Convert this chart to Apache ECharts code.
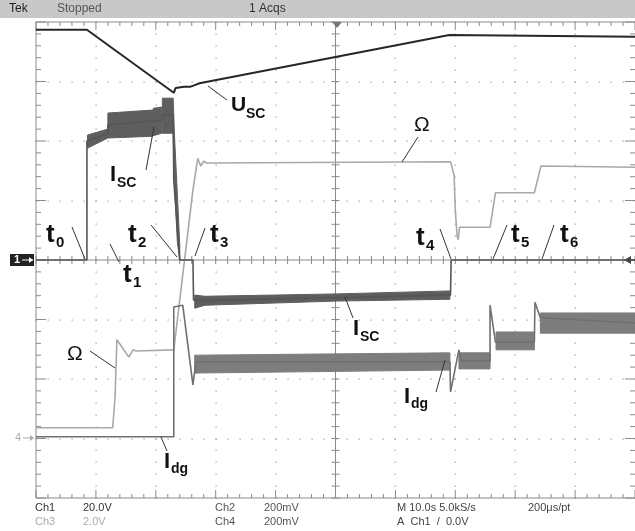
<!DOCTYPE html>
<html>
<head>
<meta charset="utf-8">
<script src="https://cdn.jsdelivr.net/npm/echarts@6.0.0/dist/echarts.min.js"></script>
<style>
  html, body { margin: 0; padding: 0; background: #fff; }
  #scope { width: 635px; height: 531px; }
</style>
</head>
<body>
<div id="scope"></div>
<script>
// Horizontal: time in seconds (10 s per division, 10 divisions).
// Vertical: amplitude in screen divisions measured from the centre line.

// Ch1 – supercapacitor voltage U_sc
const uscTrace = [[0,3.87],[8.5,3.87],[23.0,2.81],[23.3,2.89],[24.7,2.91],[25.7,2.91],[26.5,2.94],[27.3,2.97],[69.0,3.78],[69.3,3.75],[100,3.75]];

// Ch2 – supercapacitor current I_sc (centre path + noise envelopes)
const iscTrace = [[0,0],[8.5,0],[8.5,2.00],[12.0,2.12],[12.0,2.27],[21.0,2.35],[21.2,2.44],[22.9,2.44],[23.0,1.34],[24.0,0],[26.2,0],[26.3,-0.67],[28.2,-0.68],[69.2,-0.59],[69.3,0],[100,0]];
const iscBands = [
  [[8.6,1.88,2.10],[12.0,2.05,2.20]],
  [[12.0,2.05,2.47],[19.5,2.08,2.52],[19.6,2.09,2.55],[21.0,2.13,2.57]],
  [[21.1,2.13,2.72],[22.9,2.13,2.72],[23.1,1.30,2.13],[23.6,0.30,1.10],[24.0,0,0.25]],
  [[26.5,-0.81,-0.59],[28.2,-0.76,-0.61],[50.2,-0.69,-0.57],[69.1,-0.66,-0.52]]
];

// Ch3 – wheel speed Ω
const omegaTrace = [[0,-2.82],[12.8,-2.82],[13.2,-2.30],[13.5,-1.34],[13.8,-1.33],[15.5,-1.63],[16.2,-1.51],[16.7,-1.53],[23.0,-1.51],[26.2,1.18],[27.0,1.71],[27.5,1.58],[28.0,1.66],[28.5,1.63],[69.2,1.65],[69.8,1.43],[70.0,0.84],[70.3,0.40],[70.5,0.34],[70.7,0.55],[75.8,0.55],[76.7,1.13],[83.2,1.13],[84.3,1.58],[100,1.56]];

// Ch4 – generator current I_dg (centre path + noise envelopes)
const idgTrace = [[0,-2.97],[23.0,-2.97],[23.0,-0.79],[23.3,-0.76],[24.5,-0.76],[26.2,-2.10],[26.7,-1.71],[69.1,-1.71],[69.2,-2.22],[70.6,-1.51],[71.0,-1.70],[75.8,-1.70],[75.8,-0.76],[76.7,-1.38],[83.2,-1.38],[83.3,-0.71],[84.2,-0.97],[100,-1.06]];
const idgBands = [
  [[26.5,-1.90,-1.60],[69.1,-1.85,-1.56]],
  [[70.6,-1.83,-1.56],[75.8,-1.83,-1.56]],
  [[76.8,-1.51,-1.21],[83.2,-1.51,-1.21]],
  [[84.2,-1.23,-0.89],[100,-1.23,-0.89]]
];

const FONT = '"Liberation Sans", Arial, sans-serif';
const GRID = { left: 36, top: 22, width: 600, height: 476 };

// Graticule: dotted division lines, centre cross with minor ticks, border ticks
function drawGraticule(params, api) {
  const P = (t, v) => api.coord([t, v]);
  const els = [];
  const dot = '#a4a4a4', rule = '#8a8a8a';
  const ln = (x1, y1, x2, y2, c, w) => ({ type: 'line', shape: { x1, y1, x2, y2 }, style: { stroke: c, lineWidth: w || 1 } });
  for (let i = 1; i < 10; i++) {
    if (i === 5) continue;
    for (let k = 0; k <= 40; k++) {
      const p = P(i * 10, -4 + k * 0.2);
      els.push({ type: 'rect', shape: { x: Math.round(p[0]) - 0.5, y: Math.round(p[1]) - 0.5, width: 1.3, height: 1.3 }, style: { fill: dot } });
    }
  }
  for (let j = 1; j < 8; j++) {
    if (j === 4) continue;
    for (let k = 0; k <= 50; k++) {
      const p = P(k * 2, -4 + j);
      els.push({ type: 'rect', shape: { x: Math.round(p[0]) - 0.5, y: Math.round(p[1]) - 0.5, width: 1.3, height: 1.3 }, style: { fill: dot } });
    }
  }
  const tl = P(0, 4), br = P(100, -4), c = P(50, 0);
  // centre cross
  els.push(ln(tl[0], c[1], br[0], c[1], rule));
  els.push(ln(c[0], tl[1], c[0], br[1], rule));
  for (let k = 0; k <= 50; k++) {
    const x = P(k * 2, 0)[0];
    els.push(ln(x, c[1] - 4, x, c[1] + 4, rule));
    const isMajor = k % 5 === 0;
    els.push(ln(x, tl[1], x, tl[1] + (isMajor ? 8 : 4), rule));
    els.push(ln(x, br[1], x, br[1] - (isMajor ? 8 : 4), rule));
  }
  for (let k = 0; k <= 40; k++) {
    const y = P(0, -4 + k * 0.2)[1];
    els.push(ln(c[0] - 4, y, c[0] + 4, y, rule));
    const isMajor = k % 5 === 0;
    els.push(ln(tl[0], y, tl[0] + (isMajor ? 10 : 5), y, rule));
    els.push(ln(br[0], y, br[0] - (isMajor ? 10 : 5), y, rule));
  }
  // border
  els.push(ln(tl[0], tl[1], br[0], tl[1], rule));
  els.push(ln(tl[0], br[1], br[0], br[1], rule));
  els.push(ln(tl[0], tl[1], tl[0], br[1], rule));
  return { type: 'group', children: els };
}

// Noise envelope drawn as a filled polygon between low and high edges
function bandRenderer(bands, fill) {
  return function (params, api) {
    const seg = bands[params.dataIndex];
    const upper = seg.map(r => api.coord([r[0], r[2]]));
    const lower = seg.slice().reverse().map(r => api.coord([r[0], r[1]]));
    return { type: 'polygon', shape: { points: upper.concat(lower) }, style: { fill: fill, stroke: fill, lineWidth: 1 } };
  };
}

function lineSeries(data, color, width, z) {
  return { type: 'line', data, symbol: 'none', z, animation: false, lineStyle: { color, width }, silent: true };
}

function txt(text, x, y, size, weight, fill, extra) {
  return Object.assign({ type: 'text', z: 100, style: { text, x, y, font: `${weight} ${size}px ${FONT}`, fill, verticalAlign: 'top', align: 'left' } }, extra || {});
}
function seg(x1, y1, x2, y2, color) {
  return { type: 'line', z: 100, shape: { x1, y1, x2, y2 }, style: { stroke: color || '#333', lineWidth: 1 } };
}
// Trace label: large bold letter with a bold subscript
function tag(main, sub, x, y, size, subSize, dx, dy) {
  return [txt(main, x, y, size, 'bold', '#111'), txt(sub, x + dx, y + dy, subSize, 'bold', '#111')];
}

const graphics = [
  // status bar
  { type: 'rect', z: 90, shape: { x: 0, y: 0, width: 635, height: 18 }, style: { fill: '#c8c8c8' } },
  txt('Tek', 9, 3, 12, 'normal', '#222'),
  txt('Stopped', 57, 3, 12, 'normal', '#555'),
  txt('1 Acqs', 249, 3, 12, 'normal', '#333'),
  // channel readouts
  txt('Ch1', 35, 502, 11, 'normal', '#333'),
  txt('20.0V', 83, 502, 11, 'normal', '#333'),
  txt('Ch3', 35, 516, 11, 'normal', '#aaa'),
  txt('2.0V', 83, 516, 11, 'normal', '#aaa'),
  txt('Ch2', 215, 502, 11, 'normal', '#555'),
  txt('200mV', 264, 502, 11, 'normal', '#555'),
  txt('Ch4', 215, 516, 11, 'normal', '#555'),
  txt('200mV', 264, 516, 11, 'normal', '#555'),
  txt('M 10.0s 5.0kS/s', 397, 502, 11, 'normal', '#444'),
  txt('200\u03bcs/pt', 528, 502, 11, 'normal', '#444'),
  txt('A  Ch1  /  0.0V', 397, 516, 11, 'normal', '#444'),
  // ground / trigger markers
  { type: 'rect', z: 95, shape: { x: 10, y: 254, width: 24, height: 12 }, style: { fill: '#222' } },
  txt('1', 14, 254, 11, 'bold', '#fff'),
  seg(22, 260, 33, 260, '#fff'),
  { type: 'polygon', z: 101, shape: { points: [[33, 260], [29, 257], [29, 263]] }, style: { fill: '#fff' } },
  txt('4', 15, 432, 11, 'normal', '#aaa'),
  seg(23, 438, 33, 438, '#aaa'),
  { type: 'polygon', z: 101, shape: { points: [[34, 438], [30, 435], [30, 441]] }, style: { fill: '#aaa' } },
  { type: 'polygon', z: 101, shape: { points: [[624, 260], [631, 256], [631, 264]] }, style: { fill: '#444' } },
  seg(630, 260, 636, 260, '#444'),
  { type: 'polygon', z: 101, shape: { points: [[332, 22], [342, 22], [337, 28]] }, style: { fill: '#777' } },
  // trace annotations
  ...tag('U', 'SC', 231, 95, 21, 14, 15, 12),
  seg(208, 86, 227, 100),
  ...tag('I', 'SC', 110, 164, 22, 14, 7, 12),
  seg(146, 170, 154, 127),
  txt('\u03a9', 414, 115, 21, 'normal', '#111'),
  seg(402, 162, 418, 137),
  ...tag('t', '0', 46, 222, 26, 15, 10, 13),
  seg(72, 227, 85, 259),
  ...tag('t', '1', 123, 262, 26, 15, 10, 13),
  seg(110, 244, 119, 262),
  ...tag('t', '2', 128, 222, 26, 15, 10, 13),
  seg(151, 225, 177, 257),
  ...tag('t', '3', 210, 222, 26, 15, 10, 13),
  seg(205, 228, 195, 256),
  ...tag('t', '4', 416, 225, 26, 15, 10, 13),
  seg(440, 229, 451, 259),
  ...tag('t', '5', 511, 222, 26, 15, 10, 13),
  seg(507, 225, 493, 259),
  ...tag('t', '6', 560, 222, 26, 15, 10, 13),
  seg(554, 225, 542, 259),
  ...tag('I', 'SC', 353, 318, 22, 14, 7, 12),
  seg(345, 297, 353, 318),
  txt('\u03a9', 67, 344, 21, 'normal', '#111'),
  seg(90, 351, 115, 368),
  ...tag('I', 'dg', 404, 386, 22, 14, 7, 11),
  seg(436, 392, 445, 360),
  ...tag('I', 'dg', 164, 451, 22, 14, 7, 11),
  seg(161, 437, 167, 451)
];

const chart = echarts.init(document.getElementById('scope'), null, { renderer: 'canvas' });
chart.setOption({
  backgroundColor: '#fff',
  animation: false,
  grid: GRID,
  xAxis: { type: 'value', min: 0, max: 100, interval: 10, show: false },
  yAxis: { type: 'value', min: -4, max: 4, interval: 1, show: false },
  series: [
    { type: 'custom', data: [[0, 0]], renderItem: drawGraticule, z: 1, silent: true, clip: false },
    lineSeries(omegaTrace, '#a9a9a9', 1.6, 3),
    { type: 'custom', data: idgBands.map((b, i) => [i]), renderItem: bandRenderer(idgBands, '#7d7d7d'), z: 4, silent: true },
    lineSeries(idgTrace, '#707070', 1.6, 4),
    { type: 'custom', data: iscBands.map((b, i) => [i]), renderItem: bandRenderer(iscBands, '#5e5e5e'), z: 5, silent: true },
    lineSeries(iscTrace, '#555', 1.6, 5),
    lineSeries(uscTrace, '#262626', 2, 6)
  ],
  graphic: graphics
});
</script>
</body>
</html>
